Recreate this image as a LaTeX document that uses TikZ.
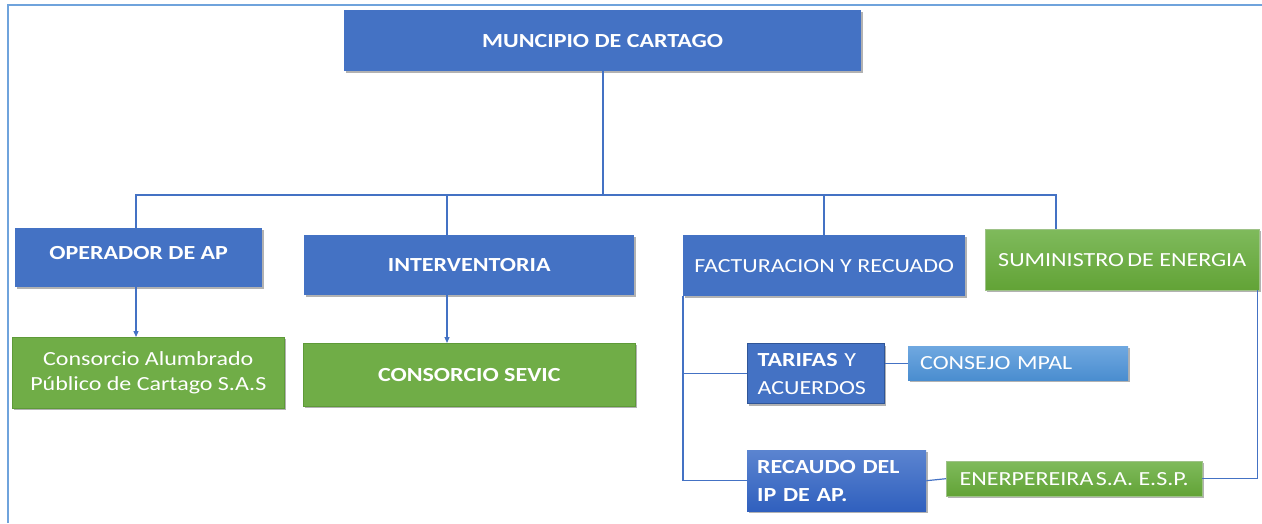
\documentclass[tikz,border=0pt]{standalone}
\usepackage{fontspec}
\setmainfont{Carlito}[FakeStretch=1.2]
\usetikzlibrary{shadows,arrows.meta}
\definecolor{cblue}{HTML}{4472C4}
\definecolor{cbluedark}{HTML}{2F5597}
\definecolor{cbluetop}{HTML}{5B84D0}
\definecolor{cbluebot}{HTML}{3060BE}
\definecolor{cgreen}{HTML}{70AD47}
\definecolor{cgreendark}{HTML}{5E9A38}
\definecolor{cgreentop}{HTML}{7FBA5C}
\definecolor{cgreenbot}{HTML}{62A336}
\definecolor{clighttop}{HTML}{6FA8E0}
\definecolor{clightbot}{HTML}{4A8DCF}
\definecolor{cframe}{HTML}{6FA3DC}
\tikzset{
  box/.style={anchor=north west, inner sep=0pt, text=white, align=center,
    font=\fontsize{20}{25}\selectfont,
    drop shadow={shadow xshift=1.5pt, shadow yshift=-2pt, opacity=0.3, fill=black}},
  bluebox/.style={box, fill=cblue},
  greenbox/.style={box, fill=cgreen, draw=cgreendark, line width=0.6pt},
  greengrad/.style={box, top color=cgreentop, bottom color=cgreenbot, draw=cgreendark!60, line width=0.4pt},
  conn/.style={draw=cblue, line width=2pt},
  thin/.style={draw=cblue, line width=1.2pt},
  arr/.style={draw=cblue, line width=1.2pt, -{Triangle[length=6pt,width=5pt]}},
}
\begin{document}
\begin{tikzpicture}[x=1pt,y=-1pt]
\useasboundingbox (0,0) rectangle (1262,523);
% frame
\draw[cframe, line width=2.2pt] (8,523) -- (8,5) -- (1262,5);
% nodes
\node[bluebox, minimum width=517pt, minimum height=61pt, font=\fontsize{20}{25}\selectfont\bfseries] (top) at (344,10) {MUNCIPIO DE CARTAGO};
\node[bluebox, minimum width=247pt, minimum height=59pt, font=\fontsize{20}{25}\selectfont\bfseries] (op) at (15,228) {\raisebox{9pt}{OPERADOR DE AP}};
\node[bluebox, minimum width=330pt, minimum height=60pt, font=\fontsize{20}{25}\selectfont\bfseries] (inter) at (304,235) {INTERVENTORIA};
\node[bluebox, minimum width=282pt, minimum height=61pt] (fact) at (683,235) {FACTURACION Y RECUADO};
\node[greengrad, minimum width=274pt, minimum height=61pt] (sum) at (985,229) {SUMINISTRO\hspace{-2pt} DE ENERGIA};
\node[greenbox, minimum width=272pt, minimum height=71pt] (cons1) at (12,337) {Consorcio Alumbrado\\Público de Cartago S.A.S};
\node[greenbox, minimum width=332pt, minimum height=63pt, font=\fontsize{20}{25}\selectfont\bfseries] (cons2) at (303,343) {CONSORCIO SEVIC};
\node[box, fill=cblue, draw=cbluedark, line width=1.2pt, minimum width=137pt, minimum height=60pt, text width=117pt, inner xsep=10pt, align=left, font=\fontsize{20}{28}\selectfont] (tar) at (747,343) {\textbf{TARIFAS} Y\\ACUERDOS};
\node[box, top color=cbluetop, bottom color=cbluebot, minimum width=179pt, minimum height=61pt, text width=159pt, inner xsep=10pt, align=left, font=\fontsize{20}{28}\selectfont\bfseries] (rec) at (747,450) {RECAUDO DEL\\IP DE AP.};
\node[box, top color=clighttop, bottom color=clightbot, minimum width=220pt, minimum height=34pt, text width=196pt, inner xsep=12pt, align=left] (cons) at (908,346) {CONSEJO MPAL};
\node[greengrad, minimum width=256pt, minimum height=35pt] (ener) at (946,461) {ENERPEREIRA\hspace{-3pt} S.A. E.S.P.};
% bus
\coordinate (b1) at (136,195);
\coordinate (b2) at (447,195);
\coordinate (b3) at (824,195);
\coordinate (b4) at (1056,195);
\draw[conn] (top.south) -- (top.south |- b1);
\draw[conn] (b1 |- op.north) -- (b1) -- (b4) -- (b4 |- sum.north);
\draw[conn] (b2) -- (b2 |- inter.north);
\draw[conn] (b3) -- (b3 |- fact.north);
% arrows
\draw[arr] (b1 |- op.south) -- (b1 |- cons1.north);
\draw[arr] (b2 |- inter.south) -- (b2 |- cons2.north);
% facturacion branches
\draw[thin] (fact.south west) |- (rec.west);
\draw[thin] (fact.south west |- tar.west) -- (tar.west);
\draw[thin] (tar.east |- cons.west) -- (cons.west);
\draw[thin] (rec.east) -- (ener.west);
\draw[thin] (ener.east) -| ([xshift=-2pt]sum.south east);
\end{tikzpicture}
\end{document}
